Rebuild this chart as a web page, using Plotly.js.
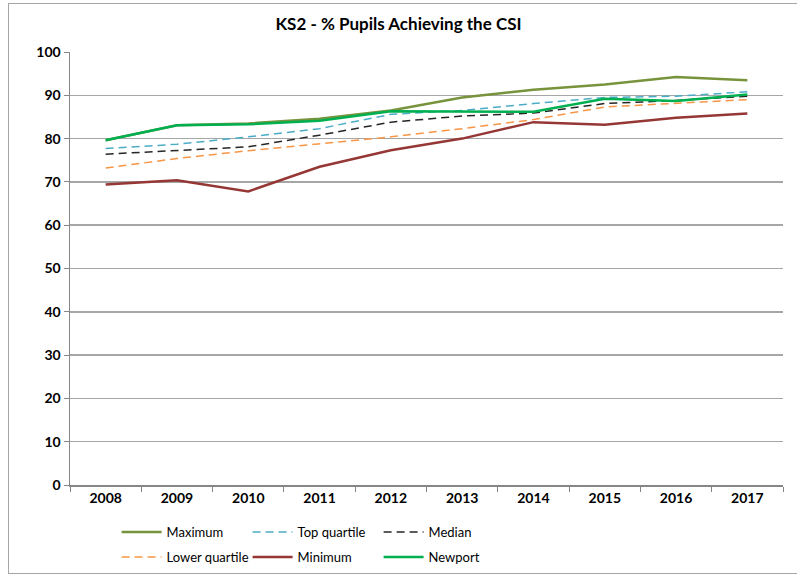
<!DOCTYPE html>
<html><head><meta charset="utf-8">
<script src="https://cdn.plot.ly/plotly-3.0.1.min.js"></script>
<style>
html,body{margin:0;padding:0;background:#fff;}
#frame{position:absolute;left:8px;top:3px;width:800px;height:571px;border:1px solid #a6a6a6;box-sizing:border-box;}
#chart{position:absolute;left:0;top:0;width:797px;height:576px;}
</style>
</head><body>
<div id="frame"></div>
<div id="chart"></div>
<script>
const years = ['2008','2009','2010','2011','2012','2013','2014','2015','2016','2017'];
const maximum = [79.6,83.1,83.5,84.6,86.5,89.5,91.3,92.5,94.2,93.5];
const topQuartile = [77.7,78.7,80.4,82.3,85.6,86.5,88.1,89.5,89.8,90.8];
const median = [76.4,77.3,78.1,80.8,83.8,85.2,85.9,88.1,88.8,89.8];
const lowerQuartile = [73.2,75.4,77.2,78.8,80.4,82.3,84.4,87.3,88.1,89.0];
const minimum = [69.4,70.4,67.8,73.5,77.3,80.0,83.8,83.2,84.8,85.8];
const newport = [79.6,83.1,83.3,84.1,86.3,86.2,86.2,89.2,88.7,90.2];
const yTicks = [0,10,20,30,40,50,60,70,80,90,100];

function tr(name, y, color, dash, width, legend){
  return {x: years, y: y, name: name, type:'scatter', mode:'lines',
    line:{color:color, dash:dash, width:width}, legend:legend, hoverinfo:'skip'};
}
const data = [
  tr('Maximum', maximum, '#77933C', 'solid', 2.5, 'legend'),
  tr('Top quartile', topQuartile, '#4BACC6', '8px,5px', 1.5, 'legend'),
  tr('Median', median, '#262626', '8px,5px', 1.5, 'legend'),
  tr('Lower quartile', lowerQuartile, '#F79646', '8px,5px', 1.5, 'legend2'),
  tr('Minimum', minimum, '#953735', 'solid', 2.5, 'legend2'),
  tr('Newport', newport, '#00B050', 'solid', 2.5, 'legend2')
];
const font = {family:'Lato, "Open Sans", sans-serif', color:'#000'};
const legendBase = {orientation:'h', xref:'container', yref:'container', xanchor:'left', yanchor:'middle',
  entrywidth:76, entrywidthmode:'pixels', font:{family:font.family, size:13, color:'#000'},
  bgcolor:'rgba(0,0,0,0)', itemclick:false, itemdoubleclick:false, tracegroupgap:0, itemwidth:40};
const layout = {
  width:797, height:576,
  margin:{l:70, r:14, t:52, b:91, autoexpand:false},
  paper_bgcolor:'rgba(0,0,0,0)', plot_bgcolor:'#fff',
  font: font,
  title:{text:'<b>KS2 - % Pupils Achieving the CSI</b>', x:0.5, xanchor:'center', y:0.958, yanchor:'middle',
    font:{family:font.family, size:17, color:'#000'}},
  xaxis:{type:'category', range:[-0.5, 9.5], showline:true, linecolor:'#868686', linewidth:1.5,
    ticks:'outside', tickson:'boundaries', ticklen:5, tickcolor:'#868686',
    showgrid:false, tickfont:{family:font.family, size:14, color:'#000', weight:'bold'}, fixedrange:true},
  yaxis:{range:[0,100], tickvals:yTicks, showline:true, linecolor:'#868686', linewidth:1.5,
    ticks:'outside', ticklen:5, tickcolor:'#868686', showgrid:true, gridcolor:'#a6a6a6', gridwidth:1.5,
    zeroline:false, tickfont:{family:font.family, size:14, color:'#000', weight:'bold'}, fixedrange:true},
  showlegend:true,
  legend:Object.assign({}, legendBase, {x:0.1463, y:1-532/576}),
  legend2:Object.assign({}, legendBase, {x:0.1463, y:1-557/576})
};
Plotly.newPlot('chart', data, layout, {displayModeBar:false, staticPlot:true});
</script>
</body></html>
